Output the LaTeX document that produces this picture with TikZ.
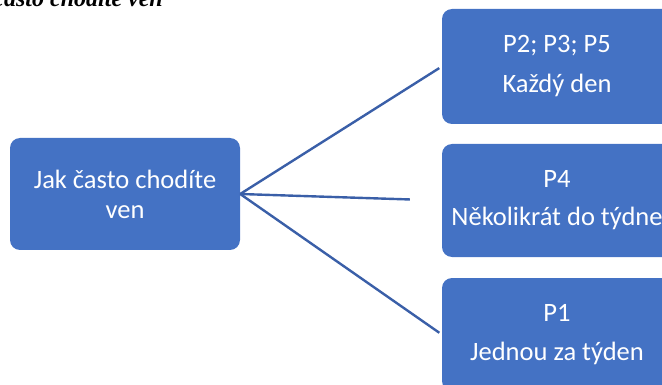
\documentclass[tikz,border=0pt]{standalone}
\usepackage{fontspec}
\setmainfont{Carlito}
\newfontfamily\titlefont{Liberation Serif}
\definecolor{boxblue}{HTML}{4472C4}
\definecolor{lineblue}{HTML}{3A5FA8}
\tikzset{
	answerbox/.style={draw=none, fill=boxblue, rounded corners=10pt, text=white,
		minimum width=230pt, align=center, inner sep=0pt,
		font=\fontsize{26.5}{30}\selectfont},
	branch/.style={draw=lineblue, line width=2.4pt}
}
\begin{document}
\begin{tikzpicture}[x=1pt, y=-1pt]
			% Fix the frame
			\useasboundingbox (0, 0) rectangle (662, 385);
			\clip (0, 0) rectangle (662, 385);

			% Caption cut off at the top
			\node[anchor=base east, inner sep=0pt, font=\titlefont\bfseries\itshape\fontsize{24}{28}\selectfont] (caption) at (163, 7) {často chodíte ven};

			% Question
			\node[answerbox, minimum height=112pt] (question) at (125, 194) {Jak často chodíte\\ven};

			% Answers
			\node[answerbox, minimum height=115pt] (daily) at (557, 66.5) {P2; P3; P5\\[10pt]Každý den};
			\node[answerbox, minimum height=113pt] (weekly) at (557, 200.5) {P4\\[8pt]Několikrát do týdne};
			\node[answerbox, minimum height=113pt] (once) at (557, 334.5) {P1\\[9pt]Jednou za týden};

			% Branches
			\draw[branch, shorten >=3pt] (question.east) -- (daily.west);
			\draw[branch, shorten >=32pt] (question.east) -- (weekly.west);
			\draw[branch, shorten >=3pt] (question.east) -- (once.west);
		\end{tikzpicture}
\end{document}
